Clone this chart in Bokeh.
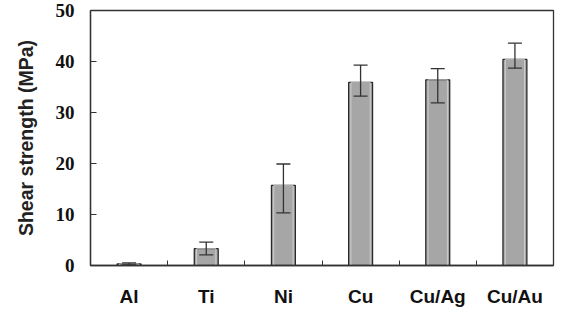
from bokeh.plotting import figure
from bokeh.models import FixedTicker, Whisker, ColumnDataSource, Range1d
from bokeh.embed import file_html
from bokeh.resources import INLINE

categories = ["Al", "Ti", "Ni", "Cu", "Cu/Ag", "Cu/Au"]
strength = [0.3, 3.3, 15.7, 35.9, 36.4, 40.4]
err_upper = [0.5, 4.6, 19.9, 39.3, 38.6, 43.6]
err_lower = [0.1, 2.1, 10.3, 33.2, 31.9, 38.7]
y_ticks = [0, 10, 20, 30, 40, 50]

xpos = [i + 0.5 for i in range(len(categories))]
src = ColumnDataSource(dict(x=xpos, top=strength, upper=err_upper, lower=err_lower))

p = figure(width=564, height=315, output_backend="svg", toolbar_location=None,
           x_range=Range1d(0, len(categories)), y_range=Range1d(0, 50),
           min_border_left=90, min_border_right=11, min_border_top=10, min_border_bottom=50)
p.grid.visible = False
p.outline_line_color = "#333333"
p.outline_line_width = 1.3
p.background_fill_color = "white"
p.border_fill_color = "white"

p.vbar(x="x", top="top", width=0.31, source=src, fill_color="#a6a6a6",
       line_color="#2a2a2a", line_width=1.3)
p.vbar(x="x", top="top", width=0.25, source=src, fill_color=None,
       line_color="#d8d8d8", line_width=0.8)

w = Whisker(base="x", upper="upper", lower="lower", source=src,
            line_color="#333333", line_width=1.3, level="overlay")
w.upper_head.size = 14
w.lower_head.size = 14
w.upper_head.line_color = "#333333"
w.lower_head.line_color = "#333333"
w.upper_head.line_width = 1.3
w.lower_head.line_width = 1.3
p.add_layout(w)

# x axis
xa = p.xaxis[0]
xa.ticker = FixedTicker(ticks=xpos, minor_ticks=list(range(1, len(categories))))
xa.major_label_overrides = {x: c for x, c in zip(xpos, categories)}
xa.major_tick_in = 0
xa.major_tick_out = 0
xa.minor_tick_in = 5
xa.minor_tick_out = 0
xa.axis_line_color = "#333333"
xa.axis_line_width = 1.3
xa.minor_tick_line_color = "#333333"
xa.major_label_text_font = "Liberation Sans"
xa.major_label_text_font_style = "bold"
xa.major_label_text_font_size = "19px"
xa.major_label_text_color = "#111111"
xa.major_label_standoff = 20

# y axis
ya = p.yaxis[0]
ya.ticker = FixedTicker(ticks=y_ticks)
ya.major_tick_in = 6
ya.major_tick_out = 0
ya.minor_tick_line_color = None
ya.axis_line_color = "#333333"
ya.axis_line_width = 1.3
ya.major_tick_line_color = "#333333"
ya.major_label_text_font = "Liberation Serif"
ya.major_label_text_font_style = "bold"
ya.major_label_text_font_size = "19px"
ya.major_label_text_color = "#111111"
ya.major_label_standoff = 16
ya.axis_label = "Shear strength (MPa)"
ya.axis_label_text_font = "Liberation Sans"
ya.axis_label_text_font_style = "bold"
ya.axis_label_text_font_size = "19.5px"
ya.axis_label_text_color = "#222222"
ya.axis_label_standoff = 16

open("out.html", "w").write(file_html(p, INLINE))
